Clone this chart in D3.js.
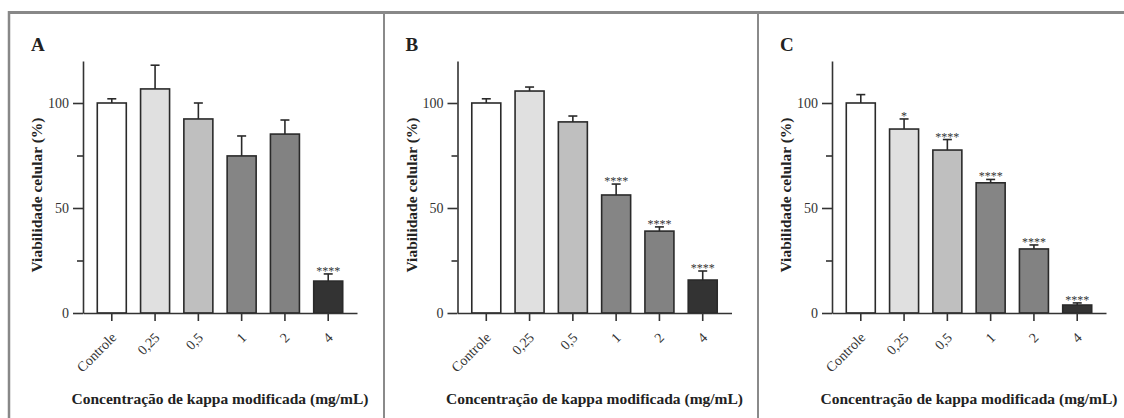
<!DOCTYPE html>
<html>
<head>
<meta charset="utf-8">
<script src="https://cdn.jsdelivr.net/npm/d3@7"></script>
<style>
  body { margin: 0; background: #fff; }
  text { font-family: "Liberation Serif", "Times New Roman", serif; fill: #222; }
</style>
</head>
<body>
<div id="chart"></div>
<script>
// Cell viability per concentration, three panels
const categories = ["Controle", "0,25", "0,5", "1", "2", "4"];
const panelLabels = ["A", "B", "C"];

const meansA = [100, 106.7, 92.4, 74.8, 85.2, 15.2];
const errA   = [2, 11.3, 7.6, 9.5, 6.7, 3.4];
const sigA   = ["", "", "", "", "", "****"];

const meansB = [100, 105.7, 91, 56.2, 39, 15.7];
const errB   = [2, 1.9, 2.8, 5.2, 2, 4.3];
const sigB   = ["", "", "", "****", "****", "****"];

const meansC = [100, 87.6, 77.6, 62, 30.5, 3.8];
const errC   = [4, 4.8, 5, 1.6, 1.9, 1];
const sigC   = ["", "*", "****", "****", "****", "****"];

const fills = ["#ffffff", "#e0e0e0", "#bfbfbf", "#858585", "#828282", "#333333"];
const yTicks = [0, 50, 100];
const yMinorTicks = [25, 75];

const width = 1124;
const height = 418;
const panelStep = 374.5;

const svg = d3.select("#chart")
              .append("svg")
              .attr("width", width)
              .attr("height", height);

// outer frame and dividers
svg.append("line")
   .attr("x1", 8).attr("x2", width).attr("y1", 12.5).attr("y2", 12.5)
   .style("stroke", "#888").style("stroke-width", 3);
svg.append("line")
   .attr("x1", 9).attr("x2", 9).attr("y1", 11).attr("y2", height)
   .style("stroke", "#888").style("stroke-width", 2.5);
[384, 758].forEach(function(x) {
  svg.append("line")
     .attr("x1", x).attr("x2", x).attr("y1", 12).attr("y2", height)
     .style("stroke", "#8a8a8a").style("stroke-width", 2);
});

const x = d3.scaleBand()
            .domain(categories)
            .range([83, 357])
            .paddingInner(0.33)
            .paddingOuter(0.33);

const y = d3.scaleLinear()
            .domain([0, 120])
            .range([313, 61]);

const panels = [
  { label: panelLabels[0], means: meansA, err: errA, sig: sigA },
  { label: panelLabels[1], means: meansB, err: errB, sig: sigB },
  { label: panelLabels[2], means: meansC, err: errC, sig: sigC }
];

panels.forEach(function(p, i) {
  const g = svg.append("g")
               .attr("transform", "translate(" + (i * panelStep) + ",0)");

  const rows = categories.map(function(c, j) {
    return { cat: c, mean: p.means[j], err: p.err[j], sig: p.sig[j], fill: fills[j] };
  });

  g.append("text")
   .attr("x", 31).attr("y", 51)
   .style("font-size", "19px").style("font-weight", "bold")
   .text(p.label);

  // bars
  g.selectAll("rect.bar")
   .data(rows)
   .enter().append("rect")
     .attr("class", "bar")
     .attr("x", d => x(d.cat))
     .attr("width", x.bandwidth())
     .attr("y", d => y(d.mean))
     .attr("height", d => y(0) - y(d.mean))
     .style("fill", d => d.fill)
     .style("stroke", "#2a2a2a")
     .style("stroke-width", 1.6);

  // error bars (upper only)
  const eb = g.selectAll("g.err")
              .data(rows)
              .enter().append("g")
              .attr("class", "err")
              .attr("transform", d => "translate(" + (x(d.cat) + x.bandwidth() / 2) + ",0)");
  eb.append("line")
    .attr("y1", d => y(d.mean)).attr("y2", d => y(d.mean + d.err))
    .style("stroke", "#2a2a2a").style("stroke-width", 1.6);
  eb.append("line")
    .attr("x1", -4.5).attr("x2", 4.5)
    .attr("y1", d => y(d.mean + d.err)).attr("y2", d => y(d.mean + d.err))
    .style("stroke", "#2a2a2a").style("stroke-width", 1.6);
  eb.append("text")
    .attr("y", d => y(d.mean + d.err) + 1)
    .attr("text-anchor", "middle")
    .style("font-size", "12px")
    .style("fill", "#333")
    .text(d => d.sig);

  // y axis
  g.append("g")
   .attr("transform", "translate(83,0)")
   .call(d3.axisLeft(y).tickValues(yTicks).tickSize(10).tickSizeOuter(0).tickPadding(4));
  g.append("g")
   .attr("transform", "translate(83,0)")
   .call(d3.axisLeft(y).tickValues(yMinorTicks).tickSize(6).tickSizeOuter(0).tickFormat(""))
   .select(".domain").remove();

  // x axis
  const xAxis = g.append("g")
                 .attr("transform", "translate(0,313)")
                 .call(d3.axisBottom(x).tickSize(8).tickSizeOuter(0));
  xAxis.selectAll(".tick text")
       .attr("x", 0)
       .attr("y", 0)
       .attr("dy", "0.35em")
       .attr("text-anchor", "end")
       .attr("transform", "translate(2,22) rotate(-45)");

  g.selectAll(".domain, .tick line")
   .style("stroke", "#333").style("stroke-width", 1.6);
  g.selectAll(".tick text")
   .style("font-family", "'Liberation Serif', serif")
   .style("font-size", "14px")
   .style("fill", "#333");

  g.append("text")
   .attr("transform", "translate(42,195) rotate(-90)")
   .attr("text-anchor", "middle")
   .style("font-size", "15.5px").style("font-weight", "bold")
   .text("Viabilidade celular (%)");

  g.append("text")
   .attr("x", 220).attr("y", 404)
   .attr("text-anchor", "middle")
   .style("font-size", "15.5px").style("font-weight", "bold")
   .text("Concentração de kappa modificada (mg/mL)");
});
</script>
</body>
</html>
